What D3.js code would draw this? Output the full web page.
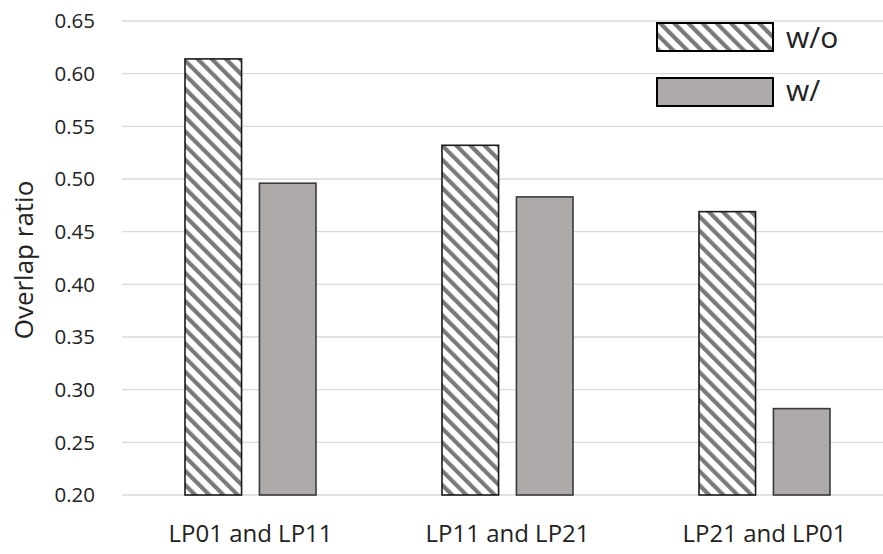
<!DOCTYPE html>
<html>
<head>
<meta charset="utf-8">
<script src="https://cdn.jsdelivr.net/npm/d3@7"></script>
<style>
  body { margin: 0; background: #fff; }
  text { font-family: "Open Sans", "Noto Sans", sans-serif; fill: #222; }
</style>
</head>
<body>
<svg id="chart"></svg>
<script>
// Data
const categories = ["LP01 and LP11", "LP11 and LP21", "LP21 and LP01"];
const seriesNames = ["w/o", "w/"];
const withoutValues = [0.614, 0.532, 0.469];
const withValues = [0.496, 0.483, 0.282];
const yTicks = [0.20, 0.25, 0.30, 0.35, 0.40, 0.45, 0.50, 0.55, 0.60, 0.65];

const svgWidth = 883;
const svgHeight = 554;
const margin = { top: 21, right: -10, bottom: 59, left: 122 };
const width = svgWidth - margin.left - margin.right;
const height = svgHeight - margin.top - margin.bottom;

const svg = d3.select("#chart")
  .attr("width", svgWidth)
  .attr("height", svgHeight);

// Hatch pattern
const defs = svg.append("defs");
const pat = defs.append("pattern")
  .attr("id", "hatch")
  .attr("patternUnits", "userSpaceOnUse")
  .attr("width", 10)
  .attr("height", 10)
  .attr("patternTransform", "rotate(-45)");
pat.append("rect").attr("width", 10).attr("height", 10).attr("fill", "#fff");
pat.append("rect").attr("x", 0).attr("y", 0).attr("width", 4.2).attr("height", 10).attr("fill", "#7a7a7a");

const g = svg.append("g")
  .attr("transform", `translate(${margin.left},${margin.top})`);

const x0 = d3.scaleBand().domain(categories).range([0, width]);
const x1 = d3.scaleBand().domain(seriesNames).range([0, 131]).paddingInner(0.24);
const y = d3.scaleLinear().domain([0.20, 0.65]).range([height, 0]);

// Gridlines
g.append("g")
  .selectAll("line")
  .data(yTicks)
  .enter().append("line")
  .attr("x1", 0).attr("x2", width)
  .attr("y1", d => y(d)).attr("y2", d => y(d))
  .attr("stroke", "#d9d9d9")
  .attr("stroke-width", 1.3);

// Y axis labels
g.append("g")
  .selectAll("text")
  .data(yTicks)
  .enter().append("text")
  .attr("x", -27)
  .attr("y", d => y(d))
  .attr("dy", "0.36em")
  .attr("text-anchor", "end")
  .style("font-size", "20.5px")
  .text(d => d.toFixed(2));

// Bars
const groups = g.selectAll(".grp")
  .data(categories)
  .enter().append("g")
  .attr("transform", d => `translate(${x0(d) + (x0.bandwidth() - 131) / 2},0)`);

groups.append("rect")
  .attr("x", x1("w/o"))
  .attr("y", (d, i) => y(withoutValues[i]))
  .attr("width", x1.bandwidth())
  .attr("height", (d, i) => height - y(withoutValues[i]))
  .attr("fill", "url(#hatch)")
  .attr("stroke", "#1a1a1a")
  .attr("stroke-width", 1.6);

groups.append("rect")
  .attr("x", x1("w/"))
  .attr("y", (d, i) => y(withValues[i]))
  .attr("width", x1.bandwidth())
  .attr("height", (d, i) => height - y(withValues[i]))
  .attr("fill", "#aeaaaa")
  .attr("stroke", "#3a3a3a")
  .attr("stroke-width", 1.6);

// X axis labels
g.append("g")
  .selectAll("text")
  .data(categories)
  .enter().append("text")
  .attr("x", d => x0(d) + x0.bandwidth() / 2)
  .attr("y", height + 47)
  .attr("text-anchor", "middle")
  .style("font-size", "24px")
  .text(d => d);

// Y axis title
svg.append("text")
  .attr("transform", "rotate(-90)")
  .attr("x", -(margin.top + height / 2) - 2)
  .attr("y", 33)
  .attr("text-anchor", "middle")
  .style("font-size", "26px")
  .text("Overlap ratio");

// Legend
const legend = svg.append("g").attr("transform", "translate(657,23)");
const legendFills = ["url(#hatch)", "#aeaaaa"];
seriesNames.forEach((s, i) => {
  legend.append("rect")
    .attr("x", 0).attr("y", i * 55)
    .attr("width", 116).attr("height", 28)
    .attr("fill", legendFills[i])
    .attr("stroke", "#000")
    .attr("stroke-width", 2);
  legend.append("text")
    .attr("x", 129).attr("y", i * 53 + 25)
    .style("font-size", "30px")
    .text(s);
});
</script>
</body>
</html>
